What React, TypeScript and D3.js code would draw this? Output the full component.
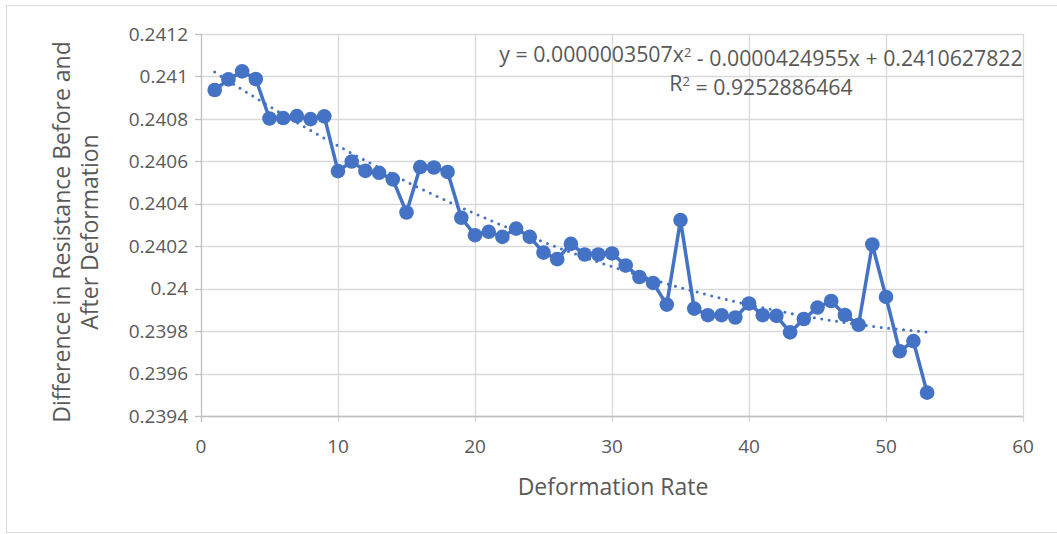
import { useEffect, useRef } from 'react';
import * as d3 from 'd3';

// deformation rate (x) and measured resistance difference (y)
const rates = [
  1, 2, 3, 4, 5, 6, 7, 8, 9, 10, 11, 12, 13, 14, 15, 16, 17, 18, 19, 20,
  21, 22, 23, 24, 25, 26, 27, 28, 29, 30, 31, 32, 33, 34, 35, 36, 37, 38, 39, 40,
  41, 42, 43, 44, 45, 46, 47, 48, 49, 50, 51, 52, 53,
];
const diffs = [
  0.240936, 0.240986, 0.241024, 0.240988, 0.240802, 0.240804, 0.240813, 0.240799, 0.240812, 0.240554,
  0.240599, 0.240555, 0.240546, 0.240515, 0.240359, 0.240573, 0.240571, 0.24055, 0.240334, 0.240252,
  0.240268, 0.240244, 0.240283, 0.240244, 0.24017, 0.240139, 0.240211, 0.240161, 0.240161, 0.240166,
  0.240109, 0.240055, 0.240027, 0.239925, 0.240323, 0.239906, 0.239875, 0.239875, 0.239864, 0.23993,
  0.239875, 0.239872, 0.239794, 0.239857, 0.239911, 0.239942, 0.239876, 0.23983, 0.240208, 0.239961,
  0.239705, 0.239753, 0.23951,
];

// polynomial trendline coefficients as printed on the chart
const trendCoef = [0.2410627822, -0.0000424955, 0.0000003507];

const xTicks = [0, 10, 20, 30, 40, 50, 60];
const yTicks = [0.2394, 0.2396, 0.2398, 0.24, 0.2402, 0.2404, 0.2406, 0.2408, 0.241, 0.2412];

const W = 1057;
const H = 534;

export default function App() {
  const svgRef = useRef<SVGSVGElement>(null);

  useEffect(() => {
    document.body.style.margin = '0';
    const svg = d3.select(svgRef.current);
    svg.selectAll('*').remove();

    const font = '"Open Sans", Lato, sans-serif';
    const textColor = '#595959';
    const blue = '#4472C4';

    const x = d3.scaleLinear().domain([0, 60]).range([201, 1023]);
    const y = d3.scaleLinear().domain([0.2394, 0.2412]).range([416, 34]);

    // outer chart border
    svg.append('rect')
      .attr('x', 6.5)
      .attr('y', 5.5)
      .attr('width', 1060)
      .attr('height', 527)
      .attr('fill', 'white')
      .attr('stroke', '#D9D9D9')
      .attr('stroke-width', 1);

    // gridlines
    const grid = svg.append('g');
    grid.selectAll('.hg')
      .data(yTicks)
      .enter().append('line')
      .attr('x1', x(0)).attr('x2', x(60))
      .attr('y1', d => Math.round(y(d)) + 0.5).attr('y2', d => Math.round(y(d)) + 0.5)
      .attr('stroke', '#D9D9D9').attr('stroke-width', 1.3);
    grid.selectAll('.vg')
      .data(xTicks.slice(1))
      .enter().append('line')
      .attr('y1', y(0.2412)).attr('y2', y(0.2394) + 6)
      .attr('x1', d => Math.round(x(d)) + 0.5).attr('x2', d => Math.round(x(d)) + 0.5)
      .attr('stroke', '#D9D9D9').attr('stroke-width', 1.3);

    // axes lines
    svg.append('line')
      .attr('x1', x(0) + 0.5).attr('x2', x(0) + 0.5)
      .attr('y1', y(0.2412)).attr('y2', y(0.2394) + 6)
      .attr('stroke', '#BFBFBF').attr('stroke-width', 1.3);
    svg.append('line')
      .attr('x1', x(0)).attr('x2', x(60))
      .attr('y1', y(0.2394) + 0.5).attr('y2', y(0.2394) + 0.5)
      .attr('stroke', '#BFBFBF').attr('stroke-width', 1.3);

    // y tick marks + labels
    svg.selectAll('.yt')
      .data(yTicks)
      .enter().append('line')
      .attr('x1', x(0) - 6).attr('x2', x(0))
      .attr('y1', d => Math.round(y(d)) + 0.5).attr('y2', d => Math.round(y(d)) + 0.5)
      .attr('stroke', '#BFBFBF').attr('stroke-width', 1.3);
    svg.selectAll('.yl')
      .data(yTicks)
      .enter().append('text')
      .attr('x', x(0) - 13)
      .attr('y', d => y(d))
      .attr('dy', '0.35em')
      .attr('text-anchor', 'end')
      .style('font-family', font)
      .style('font-size', '19px')
      .style('fill', textColor)
      .text(d => String(+d.toFixed(4)));

    svg.selectAll('.xl')
      .data(xTicks)
      .enter().append('text')
      .attr('x', d => x(d))
      .attr('y', 446)
      .attr('dy', '0.35em')
      .attr('text-anchor', 'middle')
      .style('font-family', font)
      .style('font-size', '19px')
      .style('fill', textColor)
      .text(d => d);

    // axis titles
    svg.append('text')
      .attr('x', 613)
      .attr('y', 487)
      .attr('dy', '0.35em')
      .attr('text-anchor', 'middle')
      .style('font-family', font)
      .style('font-size', '23px')
      .style('fill', textColor)
      .text('Deformation Rate');

    const yTitle = svg.append('text')
      .attr('transform', 'translate(62, 232) rotate(-90)')
      .attr('text-anchor', 'middle')
      .style('font-family', font)
      .style('font-size', '23px')
      .style('fill', textColor);
    yTitle.append('tspan').attr('x', 0).attr('dy', '0.35em').text('Difference in Resistance Before and');
    yTitle.append('tspan').attr('x', 0).attr('dy', '1.2em').text('After Deformation');

    // trendline (dotted)
    const trend = d3.line<number>()
      .x(d => x(d))
      .y(d => y(trendCoef[0] + trendCoef[1] * d + trendCoef[2] * d * d))
      .curve(d3.curveLinear);
    svg.append('path')
      .datum(d3.range(rates[0], rates[rates.length - 1] + 0.01, 0.25))
      .attr('d', trend)
      .attr('fill', 'none')
      .attr('stroke', blue)
      .attr('stroke-width', 3)
      .attr('stroke-linecap', 'round')
      .attr('stroke-dasharray', '0 7.5');

    // series line and markers
    const pts = rates.map((r, i) => [r, diffs[i]] as [number, number]);
    const line = d3.line<[number, number]>()
      .x(d => x(d[0]))
      .y(d => y(d[1]));
    svg.append('path')
      .datum(pts)
      .attr('d', line)
      .attr('fill', 'none')
      .attr('stroke', blue)
      .attr('stroke-width', 3.5)
      .attr('stroke-linejoin', 'round');

    svg.selectAll('.dot')
      .data(pts)
      .enter().append('circle')
      .attr('cx', d => x(d[0]))
      .attr('cy', d => y(d[1]))
      .attr('r', 7.3)
      .attr('fill', blue);

    // equation labels
    const eq = svg.append('text')
      .attr('x', 761)
      .attr('y', 55)
      .attr('dy', '0.35em')
      .attr('text-anchor', 'middle')
      .style('font-family', font)
      .style('font-size', '21.3px')
      .style('fill', textColor);
    eq.append('tspan').text('y = 0.0000003507x');
    eq.append('tspan').attr('dy', '-0.4em').style('font-size', '13px').text('2');
    eq.append('tspan').attr('dy', '0.4em').text(' - 0.0000424955x + 0.2410627822');

    const r2 = svg.append('text')
      .attr('x', 761)
      .attr('y', 84)
      .attr('dy', '0.35em')
      .attr('text-anchor', 'middle')
      .style('font-family', font)
      .style('font-size', '21.3px')
      .style('fill', textColor);
    r2.append('tspan').text('R');
    r2.append('tspan').attr('dy', '-0.4em').style('font-size', '13px').text('2');
    r2.append('tspan').attr('dy', '0.4em').text(' = 0.9252886464');
  }, []);

  return (
    <div style={{ position: 'absolute', left: 0, top: 0 }}>
      <svg ref={svgRef} width={W} height={H} />
    </div>
  );
}
